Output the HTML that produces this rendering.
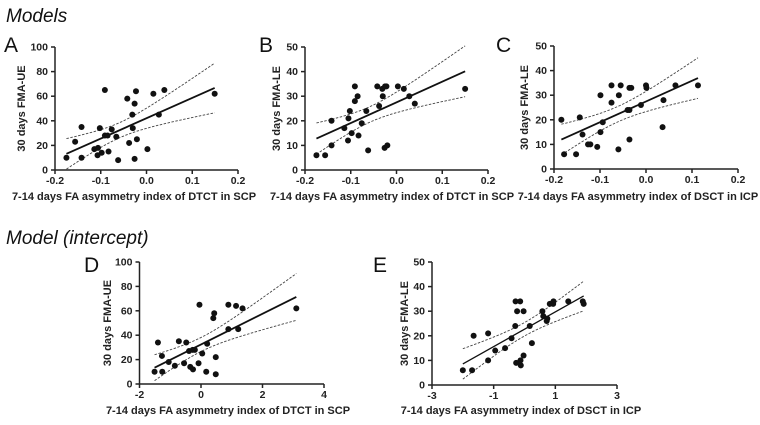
<!DOCTYPE html>
<html><head><meta charset="utf-8">
<style>
body{margin:0;background:#fff;width:760px;height:420px;overflow:hidden}
svg text{font-family:"Liberation Sans",Arial,sans-serif}
.t{font-weight:bold;font-size:10.5px;fill:#222}
.at{font-weight:bold;font-size:11px;fill:#222}
.pl{font-size:21px;fill:#111}
.sec{font-style:italic;font-size:19px;fill:#111}
</style></head><body>
<svg id="fig" width="760" height="420">
<text class="sec" x="6" y="22">Models</text>
<text class="sec" x="6" y="244">Model (intercept)</text>
</svg>
<script>
// Panel A data
const aX=[-0.175,-0.156,-0.142,-0.142,-0.114,-0.106,-0.107,-0.102,-0.098,-0.091,-0.091,-0.085,-0.083,-0.076,-0.066,-0.062,-0.042,-0.038,-0.031,-0.030,-0.026,-0.026,-0.023,-0.021,0.002,0.015,0.027,0.039,0.149];
const aY=[10,23,35,10,17,18,12,34,14,65,28,28,15,33,27,8,58,22,45,34,9,54,64,25,17,62,45,65,62];
// Panel B data
const bX=[-0.175,-0.156,-0.142,-0.142,-0.114,-0.106,-0.105,-0.102,-0.098,-0.091,-0.091,-0.085,-0.083,-0.076,-0.066,-0.062,-0.042,-0.038,-0.031,-0.030,-0.026,-0.025,-0.022,-0.020,0.003,0.016,0.028,0.040,0.150];
const bY=[6,6,20,10,17,12,21,24,15,28,34,30,14,19,24,8,34,26,33,30,9,34,34,10,34,33,30,27,33];
// Panel C data
const cX=[-0.184,-0.178,-0.152,-0.144,-0.138,-0.126,-0.121,-0.106,-0.099,-0.099,-0.094,-0.075,-0.075,-0.060,-0.059,-0.055,-0.040,-0.036,-0.036,-0.036,-0.032,-0.011,0.000,0.001,0.036,0.038,0.064,0.113];
const cY=[20,6,6,21,14,10,10,9,30,15,19,34,27,8,30,34,24,24,33,12,33,26,34,33,17,28,34,34];
// Panel D data
const dX=[-1.51,-1.40,-1.27,-1.26,-1.05,-0.85,-0.72,-0.55,-0.48,-0.39,-0.35,-0.27,-0.26,-0.20,-0.08,-0.05,0.04,0.17,0.20,0.40,0.43,0.48,0.48,0.89,0.89,1.14,1.21,1.35,3.10];
const dY=[10,34,23,10,18,15,35,17,34,27,14,28,12,28,17,65,25,10,33,54,58,22,8,65,45,64,45,62,62];
// Panel E data
const eX=[-2.0,-1.7,-1.65,-1.18,-1.18,-0.95,-0.63,-0.42,-0.30,-0.29,-0.27,-0.24,-0.14,-0.13,-0.12,-0.03,-0.03,0.17,0.24,0.58,0.61,0.72,0.74,0.82,0.93,0.94,1.42,1.89,1.92];
const eY=[6,6,20,21,10,14,15,19,24,34,9,30,34,10,8,12,30,24,17,30,28,26,27,33,33,34,34,34,33];
const ticksA=[-0.2,-0.1,0.0,0.1,0.2], tickLblA=["-0.2","-0.1","0.0","0.1","0.2"];
const ticksUE=[0,20,40,60,80,100], ticksLE=[0,10,20,30,40,50];
const ticksD=[-2,0,2,4], ticksE=[-3,-1,1,3];

const NS="http://www.w3.org/2000/svg";
const svg=document.getElementById('fig');
function mk(tag,attrs,parent){const e=document.createElementNS(NS,tag);for(const k in attrs)e.setAttribute(k,attrs[k]);(parent||svg).appendChild(e);return e;}

function panel(p){
  const g=mk('g',{});
  
  
  const sx=v=>p.L+(v-p.xmin)/(p.xmax-p.xmin)*(p.R-p.L);
  const sy=v=>p.B-(v-p.ymin)/(p.ymax-p.ymin)*(p.B-p.T);
  const lab=mk('text',{x:p.lx,y:p.ly,class:'pl'},g);lab.textContent=p.id;
  
  
  const ax=mk('line',{x1:p.L,y1:p.B,x2:p.R,y2:p.B,stroke:'#222','stroke-width':1.5},g);
  
  
  const ay=mk('line',{x1:p.L,y1:p.T,x2:p.L,y2:p.B,stroke:'#222','stroke-width':1.5},g);
  
  
  p.xt.forEach((v,i)=>{
    mk('line',{x1:sx(v),y1:p.B,x2:sx(v),y2:p.B+4,stroke:'#222','stroke-width':1.5},g);
    const t=mk('text',{x:sx(v),y:p.B+14,class:'t','text-anchor':'middle'},g);t.textContent=p.xl[i];
    
    
  });
  p.yt.forEach(v=>{
    mk('line',{x1:p.L-4,y1:sy(v),x2:p.L,y2:sy(v),stroke:'#222','stroke-width':1.5},g);
    const t=mk('text',{x:p.L-7,y:sy(v)+3.5,class:'t','text-anchor':'end'},g);t.textContent=v;
    
    
  });
  const xt=mk('text',{x:p.xtx,y:p.xty,class:'at','text-anchor':'middle'},g);xt.textContent=p.xtitle;
  
  
  const yc=(p.T+p.B)/2;
  const yt=mk('text',{x:p.ytx,y:yc,class:'at','text-anchor':'middle',transform:`rotate(-90 ${p.ytx} ${yc})`},g);yt.textContent=p.ytitle;
  
  
  const X=p.X,Y=p.Y,n=X.length;
  const mx=X.reduce((a,b)=>a+b)/n,my=Y.reduce((a,b)=>a+b)/n;
  let sxx=0,sxy=0;X.forEach((x,i)=>{sxx+=(x-mx)**2;sxy+=(x-mx)*(Y[i]-my);});
  const b=sxy/sxx,a=my-b*mx;
  let sse=0;X.forEach((x,i)=>{sse+=(Y[i]-a-b*x)**2;});
  const s=Math.sqrt(sse/(n-2)),tq=2.05;
  const x0=Math.min(...X),x1=Math.max(...X);
  const up=[],lo=[];
  for(let k=0;k<=40;k++){const x=x0+(x1-x0)*k/40;const se=s*Math.sqrt(1/n+(x-mx)**2/sxx);const yh=a+b*x;
    up.push(sx(x)+','+sy(yh+tq*se));lo.push(sx(x)+','+sy(Math.max(p.ymin,yh-tq*se)));}
  const cu=mk('polyline',{points:up.join(' '),fill:'none',stroke:'#444','stroke-width':0.9,'stroke-dasharray':'2.5,1.5'},g);
  
  
  const cl=mk('polyline',{points:lo.join(' '),fill:'none',stroke:'#444','stroke-width':0.9,'stroke-dasharray':'2.5,1.5'},g);
  
  
  const rl=mk('line',{x1:sx(x0),y1:sy(a+b*x0),x2:sx(x1),y2:sy(a+b*x1),stroke:'#111','stroke-width':p.lw||1.8},g);
  
  
  X.forEach((x,i)=>{
    const c=mk('circle',{cx:sx(x),cy:sy(Y[i]),r:3,fill:'#111'},g);
    
    
  });
}
panel({id:'A',X:aX,Y:aY,L:55,R:238,T:47,B:170,xmin:-0.2,xmax:0.2,ymin:0,ymax:100,xt:ticksA,xl:tickLblA,yt:ticksUE,lx:4,ly:52,xtitle:'7-14 days FA asymmetry index of DTCT in SCP',xtx:134,xty:200,ytitle:'30 days FMA-UE',ytx:25});
panel({id:'B',X:bX,Y:bY,L:305,R:488,T:47,B:170,xmin:-0.2,xmax:0.2,ymin:0,ymax:50,xt:ticksA,xl:tickLblA,yt:ticksLE,lx:259,ly:52,xtitle:'7-14 days FA asymmetry index of DTCT in SCP',xtx:392,xty:200,ytitle:'30 days FMA-LE',ytx:280});
panel({id:'C',X:cX,Y:cY,L:554,R:738,T:46,B:169,xmin:-0.2,xmax:0.2,ymin:0,ymax:50,xt:ticksA,xl:tickLblA,yt:ticksLE,lx:496,ly:52,xtitle:'7-14 days FA asymmetry index of DSCT in ICP',xtx:638,xty:200,ytitle:'30 days FMA-LE',ytx:528});
panel({id:'D',X:dX,Y:dY,L:139.5,R:324,T:262,B:384,xmin:-2,xmax:4,ymin:0,ymax:100,xt:ticksD,xl:ticksD.map(String),yt:ticksUE,lx:84,ly:272,xtitle:'7-14 days FA asymmetry index of DTCT in SCP',xtx:228,xty:414,ytitle:'30 days FMA-UE',ytx:111});
panel({id:'E',X:eX,Y:eY,L:432,R:617,T:262,B:385,xmin:-3,xmax:3,ymin:0,ymax:50,xt:ticksE,xl:ticksE.map(String),yt:ticksLE,lx:373,ly:272,xtitle:'7-14 days FA asymmetry index of DSCT in ICP',xtx:521,xty:414,ytitle:'30 days FMA-LE',ytx:408,lw:1.3});
</script>
</body></html>
